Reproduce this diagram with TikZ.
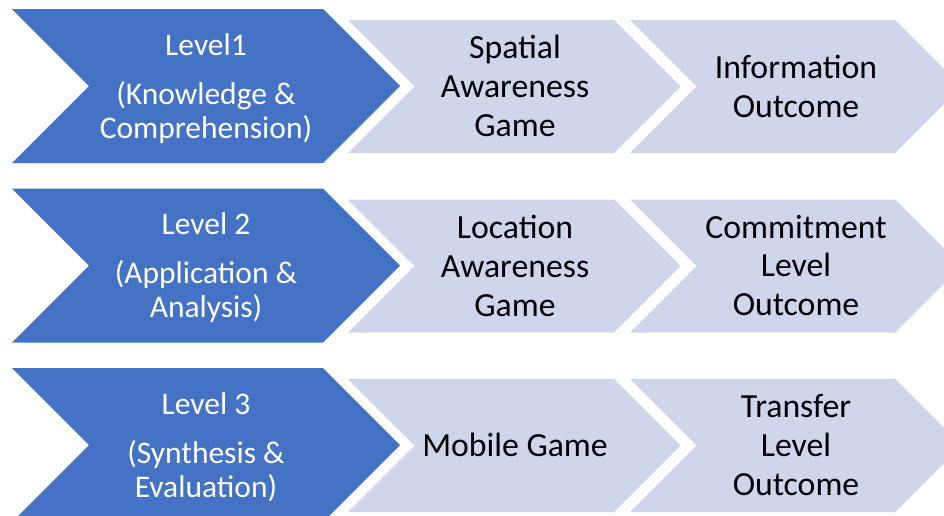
\documentclass[tikz,border=0pt]{standalone}
\usepackage{fontspec}
\setmainfont{Carlito}
\usepackage{tikz}
\definecolor{levelc}{RGB}{68,114,196}
\definecolor{stepc}{RGB}{207,213,234}
\tikzset{
  lvlchev/.style={fill=levelc},
  stepchev/.style={fill=stepc},
  lvltext/.style={align=center, text=white, inner sep=0pt,
                  font=\fontsize{22.4}{24.2}\selectfont},
  steptext/.style={align=center, text=black, inner sep=0pt,
                   font=\fontsize{24}{27.7}\selectfont},
}
% chevron: style, left x, top y, length of the top edge, height
\newcommand{\chev}[5]{%
  \fill[#1] (#2,#3) -- ++(#4,0) -- ++(#5/2,#5/2) -- ++(-#5/2,#5/2)
    -- ++(-#4,0) -- ++(#5/2,-#5/2) -- cycle;}
\newcommand{\lvl}[2]{#1\\[10.7pt]#2}

\begin{document}
\begin{tikzpicture}[x=0.025cm, y=-0.025cm]
  \useasboundingbox (0,0) rectangle (944,515);
  \clip (0,0) rectangle (944,515);

  % first row
  \chev{lvlchev}{12}{9}{311}{154}
  \chev{stepchev}{348}{20}{266}{133}
  \chev{stepchev}{630}{20}{265}{133}
  \node[lvltext] (lvl1) at (206,88.5)
    {\lvl{Level1}{(Knowledge \&\\Comprehension)}};
  \node[steptext] (game1) at (515,86) {Spatial\\Awareness\\Game};
  \node[steptext] (out1) at (796,86) {Information\\Outcome};

  % second row
  \chev{lvlchev}{12}{188.5}{311}{154}
  \chev{stepchev}{348}{199.5}{266}{133}
  \chev{stepchev}{630}{199.5}{265}{133}
  \node[lvltext] (lvl2) at (206,268)
    {\lvl{Level 2}{(Application \&\\Analysis)}};
  \node[steptext] (game2) at (515,265.5) {Location\\Awareness\\Game};
  \node[steptext] (out2) at (796,265.5) {Commitment\\Level\\Outcome};

  % third row
  \chev{lvlchev}{12}{368}{311}{154}
  \chev{stepchev}{348}{379}{266}{133}
  \chev{stepchev}{630}{379}{265}{133}
  \node[lvltext] (lvl3) at (206,447.5)
    {\lvl{Level 3}{(Synthesis \&\\Evaluation)}};
  \node[steptext] (game3) at (515,445) {Mobile Game};
  \node[steptext] (out3) at (796,445) {Transfer\\Level\\Outcome};

\end{tikzpicture}
\end{document}
